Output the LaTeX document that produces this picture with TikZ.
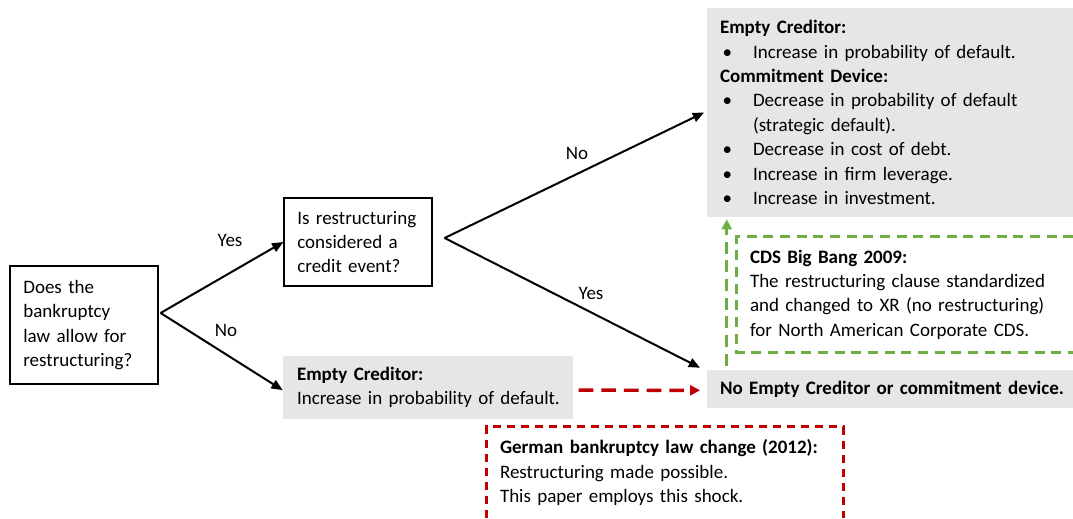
\documentclass[tikz,border=0pt]{standalone}
\usepackage{fontspec}
\setmainfont{Carlito}
\usetikzlibrary{arrows.meta}
\definecolor{outcomegray}{HTML}{E7E6E6}
\definecolor{shockred}{HTML}{C00000}
\definecolor{shockgreen}{HTML}{70AD47}
\tikzstyle{tree question}=[rectangle, draw, line width=0.9pt, align=left,
inner xsep=10pt, inner ysep=3pt, text width=91pt, minimum width=111pt]
\tikzstyle{tree outcome}=[rectangle, fill=outcomegray, align=left,
inner xsep=9.75pt, inner ysep=3pt]
\tikzstyle{shock note}=[rectangle, align=left, inner xsep=9.75pt, inner ysep=3pt]
\tikzstyle{tree branch}=[line width=1.5pt, -{Triangle[length=8.5pt,width=7pt]}]
\tikzstyle{law frame}=[shockred, line width=1.9pt, dash pattern=on 6pt off 4.5pt]
\tikzstyle{law arrow}=[shockred, line width=2.6pt, dash pattern=on 11pt off 6pt,
-{Triangle[length=7.5pt,width=7.5pt]}]
\tikzstyle{bang frame}=[shockgreen, line width=1.9pt, dash pattern=on 7.5pt off 5pt]
\tikzstyle{bang arrow}=[shockgreen, line width=2.2pt, dash pattern=on 9pt off 5pt,
-{Triangle[length=7.5pt,width=7.5pt]}]
\newcommand{\outcomeitem}[1]{\makebox[24.75pt][l]{\hspace{2pt}\textbullet}#1}

\begin{document}
\begin{tikzpicture}[x=0.75pt, y=-0.75pt, font=\fontsize{14.25pt}{18.3pt}\selectfont]
\useasboundingbox (0,0) rectangle (1073,518);

\node[tree question, minimum height=88.5pt] (law) at (84,325)
  {Does the\\ bankruptcy\\ law allow for\\ restructuring?};
\node[tree question, minimum height=66pt] (event) at (358,242)
  {Is restructuring\\ considered a\\ credit event?};

\node[tree outcome, text width=196.5pt, inner xsep=10.5pt, minimum height=47.25pt] (creditor) at (428,387.5)
  {\textbf{Empty Creditor:}\\ \mbox{Increase in probability of default.}};
\node[tree outcome, text width=255pt, minimum height=156.75pt] (device) at (890,112.5)
  {\textbf{Empty Creditor:}\\
   \outcomeitem{Increase in probability of default.}\\
   \textbf{Commitment Device:}\\
   \outcomeitem{Decrease in probability of default}\\
   \hspace*{24.75pt}(strategic default).\\
   \outcomeitem{Decrease in cost of debt.}\\
   \outcomeitem{Increase in firm leverage.}\\
   \outcomeitem{Increase in investment.}};
\node[tree outcome, text width=255pt, minimum height=28.5pt] (none) at (890,389)
  {\mbox{\textbf{No Empty Creditor or commitment device.}}};

\node[shock note, text width=232.5pt, minimum height=86.25pt] (bigbang) at (905,294.5)
  {\textbf{CDS Big Bang 2009:}\\
   The restructuring clause standardized\\
   and changed to XR (no restructuring)\\
   for North American Corporate CDS.};
\node[shock note, text width=247.5pt, minimum height=68.25pt] (lawchange) at (665,472.5)
  {\textbf{German bankruptcy law change (2012):}\\
   Restructuring made possible.\\
   This paper employs this shock.};

\coordinate (lawfork) at ([xshift=1.5pt,yshift=9pt]law.east);
\coordinate (eventfork) at ([xshift=9pt,yshift=3pt]event.east);

\draw[tree branch] (lawfork) -- (event.west);
\draw[tree branch] (lawfork) -- ([yshift=-2pt]creditor.west);
\draw[tree branch] (eventfork) -- ([xshift=-2pt]device.west);
\draw[tree branch] (eventfork) -- ([xshift=-5pt,yshift=1.5pt]none.north west);

\node (yeslaw) at (230,240) {Yes};
\node (nolaw) at (226,330) {No};
\node (noevent) at (577,153) {No};
\node (yesevent) at (591,293) {Yes};

\draw[law arrow, shorten <=4pt, shorten >=5pt] ([yshift=-2pt]creditor.east) -- ([yshift=-1pt]none.west);
\draw[law frame] (lawchange.south west) -- (lawchange.north west) -- (lawchange.north east) -- (lawchange.south east);

\draw[bang arrow, shorten >=1.5pt] ([xshift=15pt,yshift=3pt]none.north west) -- ([xshift=15pt]device.south west);
\draw[bang frame] (bigbang.north east) -- (bigbang.north west) -- (bigbang.south west) -- (bigbang.south east);
\end{tikzpicture}
\end{document}
